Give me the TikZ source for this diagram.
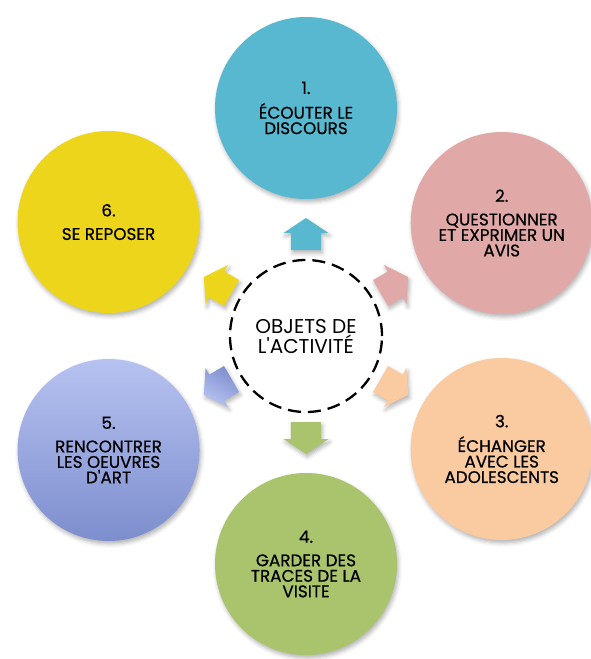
\documentclass[tikz,border=0pt]{standalone}
\usepackage{fontspec}
\setmainfont{Poppins}
\newfontfamily\medfont{Poppins}[FakeBold=0.6]
\usetikzlibrary{shadows.blur}
\definecolor{cOne}{HTML}{57B8D0}
\definecolor{cTwo}{HTML}{E0A8A6}
\definecolor{cThree}{HTML}{FACBA1}
\definecolor{cFour}{HTML}{A9C46C}
\definecolor{cFiveT}{HTML}{B6C2F0}
\definecolor{cFiveB}{HTML}{7D8ECE}
\definecolor{cSix}{HTML}{EDD51B}
\begin{document}
\begin{tikzpicture}[x=1pt,y=1pt,
  softshadow/.style={blur shadow={shadow xshift=1.5pt, shadow yshift=-3pt, shadow blur radius=4pt, shadow opacity=30}},
  bubble/.style={circle, minimum size=182pt, inner sep=0pt, align=center,
    font=\medfont\fontsize{16.8}{15.5}\selectfont, text=black, softshadow},
  pics/blockarrow/.style={code={
    \path[softshadow, pic actions] (-16,-15) -- (1,-15) -- (1,-22.5) -- (16,0)
      -- (1,22.5) -- (1,15) -- (-16,15) -- cycle;}},
]
\useasboundingbox (-306,-323) rectangle (284,336);
% centre
\node[circle, draw=black, line width=2.3pt, dash pattern=on 13pt off 7pt,
  minimum size=152pt, inner sep=0pt, align=center,
  font=\fontsize{20}{20}\selectfont] (c) at (0,0)
  {OBJETS DE\\L\textquotesingle ACTIVITÉ};
% outer circles
\node[bubble, fill=cOne] (b1) at (90:228)
  {1.\\[8pt]ÉCOUTER LE\\DISCOURS};
\node[bubble, fill=cTwo] (b2) at (30:226)
  {2.\\[8pt]QUESTIONNER\\ET EXPRIMER UN\\AVIS};
\node[bubble, fill=cThree] (b3) at (-30:226)
  {3.\\[8pt]ÉCHANGER\\AVEC LES\\ADOLESCENTS};
\node[bubble, fill=cFour] (b4) at (-90:228)
  {4.\\[8pt]GARDER DES\\TRACES DE LA\\VISITE};
\node[bubble, top color=cFiveT, bottom color=cFiveB] (b5) at (210:228)
  {5.\\[8pt]RENCONTRER\\LES OEUVRES\\D\textquotesingle ART};
\node[bubble, fill=cSix] (b6) at (150:228)
  {6.\\[8pt]SE REPOSER};
% arrows
\pic[fill=cOne] (a1) at (90:102) [rotate=90] {blockarrow};
\pic[fill=cTwo] (a2) at (30:102) [rotate=30] {blockarrow};
\pic[fill=cThree] (a3) at (-30:102) [rotate=-30] {blockarrow};
\pic[fill=cFour] (a4) at (-90:102) [rotate=-90] {blockarrow};
\pic[top color=cFiveT, bottom color=cFiveB, shading angle=-210] (a5) at (210:102) [rotate=210] {blockarrow};
\pic[fill=cSix] (a6) at (150:102) [rotate=150] {blockarrow};
\end{tikzpicture}
\end{document}
